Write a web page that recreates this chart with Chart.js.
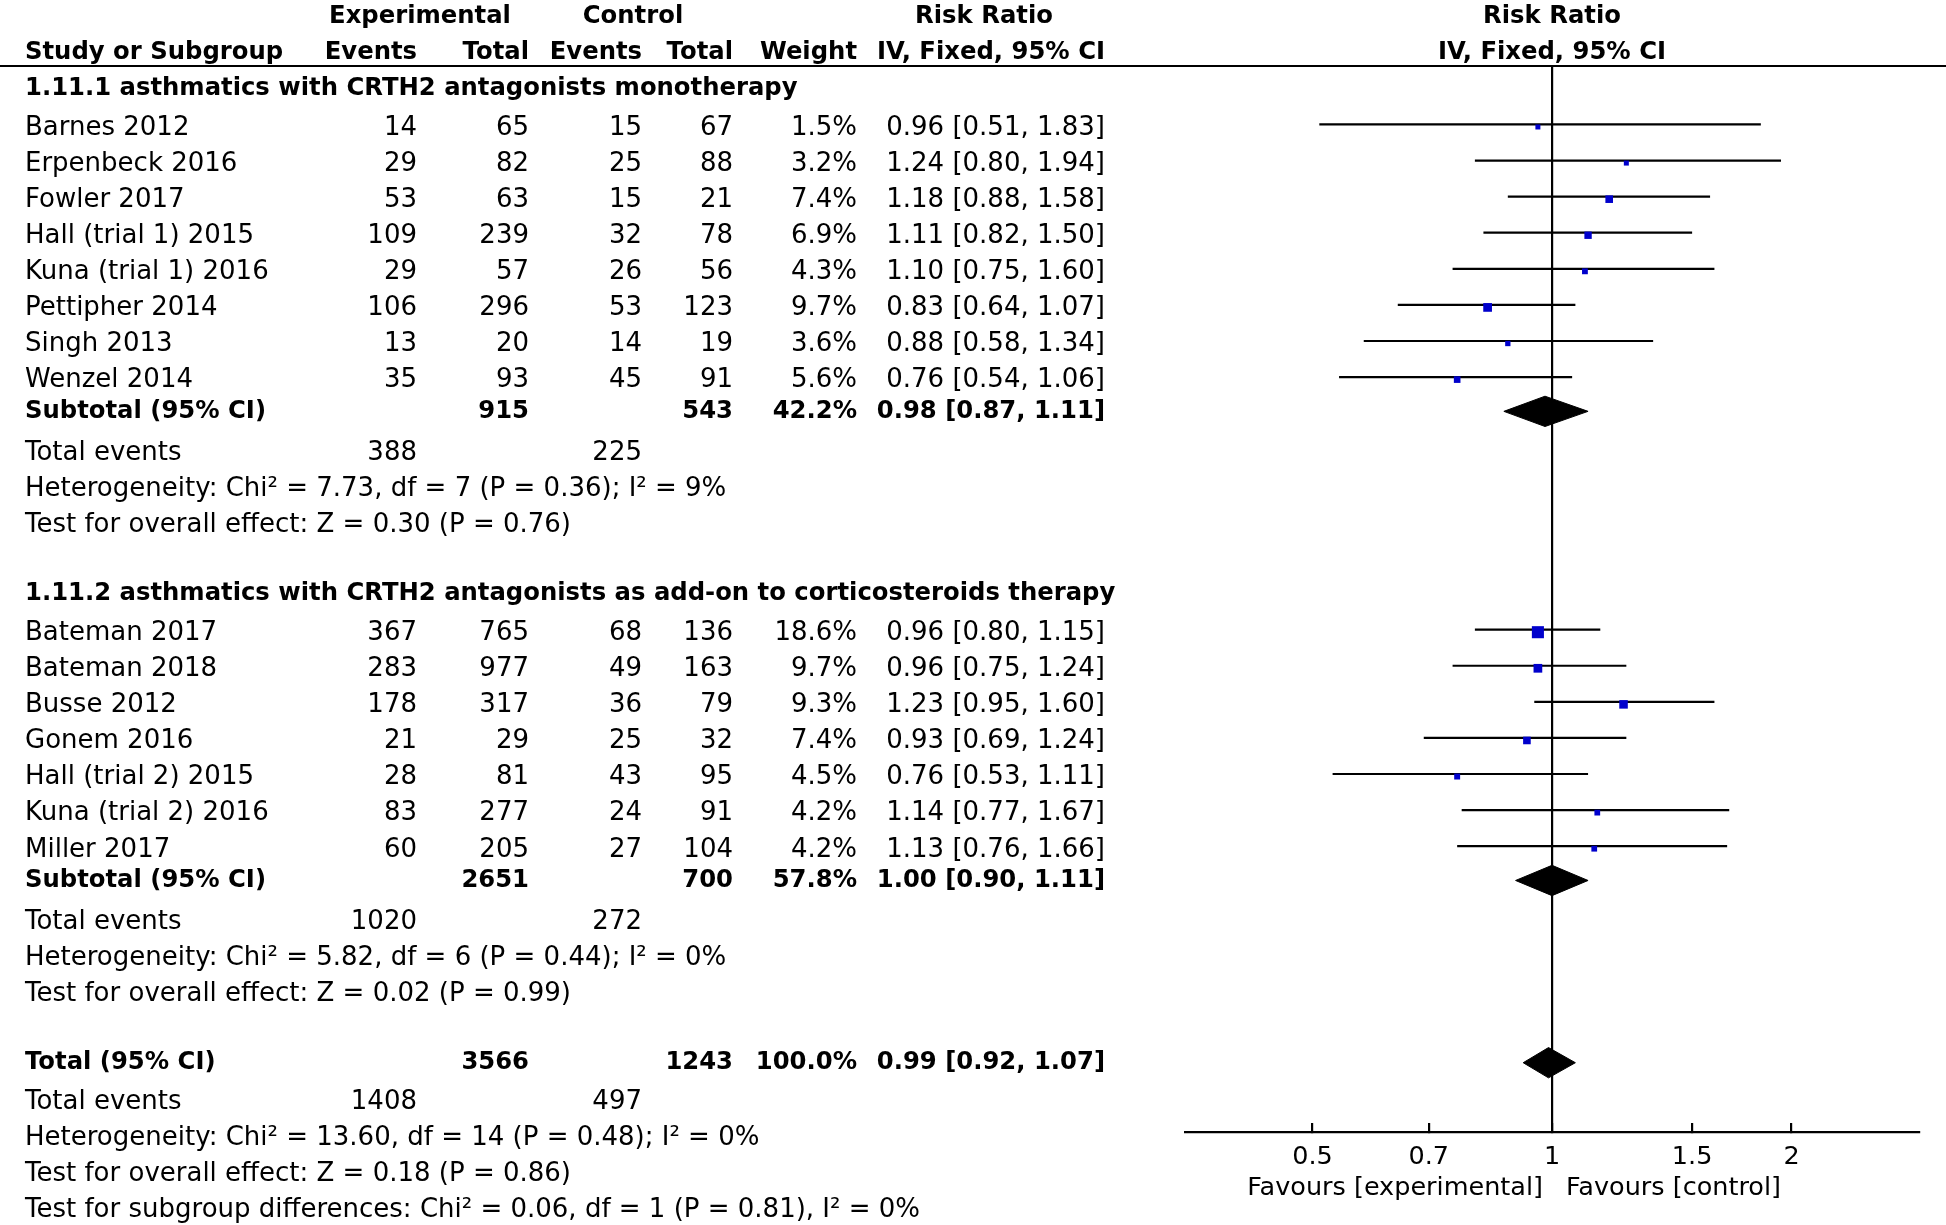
<!DOCTYPE html>
<html>
<head>
<meta charset="utf-8">
<script src="https://cdn.jsdelivr.net/npm/chart.js@4.4.1/dist/chart.umd.min.js"></script>
<style>
  html, body { margin: 0; padding: 0; background: #fff; }
  #wrap { width: 1946px; height: 1225px; position: relative; }
</style>
</head>
<body>
<div id="wrap"><canvas id="forest"></canvas></div>
<script>
// --- studies, in table order ---
const studyNames = ["Barnes 2012", "Erpenbeck 2016", "Fowler 2017", "Hall (trial 1) 2015", "Kuna (trial 1) 2016",
  "Pettipher 2014", "Singh 2013", "Wenzel 2014",
  "Bateman 2017", "Bateman 2018", "Busse 2012", "Gonem 2016", "Hall (trial 2) 2015", "Kuna (trial 2) 2016", "Miller 2017"];
const studyGroup = [0, 0, 0, 0, 0, 0, 0, 0, 1, 1, 1, 1, 1, 1, 1];
const expEvents = [14, 29, 53, 109, 29, 106, 13, 35, 367, 283, 178, 21, 28, 83, 60];
const expTotal  = [65, 82, 63, 239, 57, 296, 20, 93, 765, 977, 317, 29, 81, 277, 205];
const ctlEvents = [15, 25, 15, 32, 26, 53, 14, 45, 68, 49, 36, 25, 43, 24, 27];
const ctlTotal  = [67, 88, 21, 78, 56, 123, 19, 91, 136, 163, 79, 32, 95, 91, 104];
const weights   = [1.5, 3.2, 7.4, 6.9, 4.3, 9.7, 3.6, 5.6, 18.6, 9.7, 9.3, 7.4, 4.5, 4.2, 4.2];
const riskRatio = [0.96, 1.24, 1.18, 1.11, 1.10, 0.83, 0.88, 0.76, 0.96, 0.96, 1.23, 0.93, 0.76, 1.14, 1.13];
const ciLower   = [0.51, 0.80, 0.88, 0.82, 0.75, 0.64, 0.58, 0.54, 0.80, 0.75, 0.95, 0.69, 0.53, 0.77, 0.76];
const ciUpper   = [1.83, 1.94, 1.58, 1.50, 1.60, 1.07, 1.34, 1.06, 1.15, 1.24, 1.60, 1.24, 1.11, 1.67, 1.66];

// --- subgroups ---
const groupTitles = ["1.11.1 asthmatics with CRTH2 antagonists monotherapy",
  "1.11.2 asthmatics with CRTH2 antagonists as add-on to corticosteroids therapy"];
const groupExpTotal  = [915, 2651];
const groupCtlTotal  = [543, 700];
const groupExpEvents = [388, 1020];
const groupCtlEvents = [225, 272];
const groupWeight    = [42.2, 57.8];
const groupRR        = [0.98, 1.00];
const groupLower     = [0.87, 0.90];
const groupUpper     = [1.11, 1.11];
const groupChi2      = [7.73, 5.82];
const groupDf        = [7, 6];
const groupHetP      = [0.36, 0.44];
const groupI2        = [9, 0];
const groupZ         = [0.30, 0.02];
const groupZP        = [0.76, 0.99];

// --- overall ---
const totalCounts = [3566, 1243];      // experimental total, control total
const totalEvents = [1408, 497];
const totalEffect = [0.99, 0.92, 1.07]; // RR, lower, upper
const totalHet    = [13.60, 14, 0.48, 0];  // chi2, df, P, I2
const totalTest   = [0.18, 0.86];      // Z, P
const subgroupDiff = [0.06, 1, 0.81, 0]; // chi2, df, P, I2

const axisTicks = [0.5, 0.7, 1, 1.5, 2];

// --- layout (row units) ---
const studyRow = [], groupRow = [], subtotalRow = [], eventsRow = [], hetRow = [], testRow = [];
let pos = 0.62;
groupTitles.forEach((t, g) => {
  groupRow[g] = pos;
  pos += 1.1;
  studyNames.forEach((n, i) => {
    if (studyGroup[i] === g) { studyRow[i] = pos; pos += 1; }
  });
  pos += 0.85 - 1;
  subtotalRow[g] = pos;
  pos += 1.15; eventsRow[g] = pos;
  pos += 1; hetRow[g] = pos;
  pos += 1; testRow[g] = pos;
  pos += 1.9;
});
const totalRow = pos;
const totalEventsRow = totalRow + 1.1;
const totalHetRow = totalEventsRow + 1;
const totalTestRow = totalHetRow + 1;
const subgroupRow = totalTestRow + 1;
const headRow1 = -1.38, headRow2 = -0.38;

const Y_MAX = 29.54;
const X_MIN = Math.exp(-1.062), X_MAX = Math.exp(1.062);

const REG = '26px "DejaVu Sans"';
const BOLD = 'bold 24.3px "DejaVu Sans"';
const COL = { name: 25, expEv: 417, expTot: 529, ctlEv: 642, ctlTot: 733, weight: 857, rr: 1105 };

const f2 = v => v.toFixed(2);
const rrText = (r, l, h) => `${f2(r)} [${f2(l)}, ${f2(h)}]`;
const hetText = (c, d, p, i2, sep) => `Heterogeneity: Chi² = ${f2(c)}, df = ${d} (P = ${f2(p)})${sep} I² = ${i2}%`;

// --- datasets ---
const markerSet = {
  data: studyNames.map((n, i) => ({ x: riskRatio[i], y: studyRow[i] - 0.03 })),
  pointStyle: 'rect',
  pointRadius: c => (c.dataIndex == null ? 0 : Math.max(5, 2.8 * Math.sqrt(weights[c.dataIndex])) / Math.SQRT2),
  pointBackgroundColor: '#0000CC',
  pointBorderWidth: 0,
  order: 0
};

const ciSets = studyNames.map((n, i) => ({
  data: [{ x: ciLower[i], y: studyRow[i] - 0.1 }, { x: ciUpper[i], y: studyRow[i] - 0.1 }],
  showLine: true, borderColor: '#000', borderWidth: 2.2, pointRadius: 0, order: 2
}));

function diamond(r, l, h, row) {
  const hh = 0.42;
  return {
    data: [{ x: l, y: row }, { x: r, y: row - hh }, { x: h, y: row }, { x: r, y: row + hh }, { x: l, y: row }],
    showLine: true, fill: 'shape', tension: 0,
    borderColor: '#000', backgroundColor: '#000', borderWidth: 1, pointRadius: 0, order: 1
  };
}
const diamondSets = groupTitles.map((t, g) => diamond(groupRR[g], groupLower[g], groupUpper[g], subtotalRow[g]));
diamondSets.push(diamond(totalEffect[0], totalEffect[1], totalEffect[2], totalRow));

// --- table text ---
const tablePlugin = {
  id: 'table',
  afterDraw(chart) {
    const ctx = chart.ctx;
    const ys = chart.scales.y, xs = chart.scales.x;
    const py = v => ys.getPixelForValue(v);
    const put = (txt, x, v, align, bold) => {
      ctx.font = bold ? BOLD : REG;
      ctx.textAlign = align;
      ctx.fillText(String(txt), x, py(v));
    };
    ctx.save();
    ctx.fillStyle = '#000';
    ctx.textBaseline = 'middle';

    // header
    put('Experimental', 420, headRow1, 'center', true);
    put('Control', 633, headRow1, 'center', true);
    put('Risk Ratio', 984, headRow1, 'center', true);
    put('Study or Subgroup', COL.name, headRow2, 'left', true);
    put('Events', COL.expEv, headRow2, 'right', true);
    put('Total', COL.expTot, headRow2, 'right', true);
    put('Events', COL.ctlEv, headRow2, 'right', true);
    put('Total', COL.ctlTot, headRow2, 'right', true);
    put('Weight', COL.weight, headRow2, 'right', true);
    put('IV, Fixed, 95% CI', COL.rr, headRow2, 'right', true);
    const cx = (chart.chartArea.left + chart.chartArea.right) / 2;
    put('Risk Ratio', cx, headRow1, 'center', true);
    put('IV, Fixed, 95% CI', cx, headRow2, 'center', true);

    ctx.strokeStyle = '#000';
    ctx.lineWidth = 2.2;
    ctx.beginPath();
    ctx.moveTo(0, py(0));
    ctx.lineTo(chart.width, py(0));
    ctx.stroke();

    // studies
    studyNames.forEach((n, i) => {
      const v = studyRow[i];
      put(n, COL.name, v, 'left');
      put(expEvents[i], COL.expEv, v, 'right');
      put(expTotal[i], COL.expTot, v, 'right');
      put(ctlEvents[i], COL.ctlEv, v, 'right');
      put(ctlTotal[i], COL.ctlTot, v, 'right');
      put(weights[i].toFixed(1) + '%', COL.weight, v, 'right');
      put(rrText(riskRatio[i], ciLower[i], ciUpper[i]), COL.rr, v, 'right');
    });

    // subgroups
    groupTitles.forEach((t, g) => {
      put(t, COL.name, groupRow[g], 'left', true);
      const s = subtotalRow[g];
      put('Subtotal (95% CI)', COL.name, s, 'left', true);
      put(groupExpTotal[g], COL.expTot, s, 'right', true);
      put(groupCtlTotal[g], COL.ctlTot, s, 'right', true);
      put(groupWeight[g].toFixed(1) + '%', COL.weight, s, 'right', true);
      put(rrText(groupRR[g], groupLower[g], groupUpper[g]), COL.rr, s, 'right', true);
      put('Total events', COL.name, eventsRow[g], 'left');
      put(groupExpEvents[g], COL.expEv, eventsRow[g], 'right');
      put(groupCtlEvents[g], COL.ctlEv, eventsRow[g], 'right');
      put(hetText(groupChi2[g], groupDf[g], groupHetP[g], groupI2[g], ';'), COL.name, hetRow[g], 'left');
      put(`Test for overall effect: Z = ${f2(groupZ[g])} (P = ${f2(groupZP[g])})`, COL.name, testRow[g], 'left');
    });

    // overall
    put('Total (95% CI)', COL.name, totalRow, 'left', true);
    put(totalCounts[0], COL.expTot, totalRow, 'right', true);
    put(totalCounts[1], COL.ctlTot, totalRow, 'right', true);
    put('100.0%', COL.weight, totalRow, 'right', true);
    put(rrText(totalEffect[0], totalEffect[1], totalEffect[2]), COL.rr, totalRow, 'right', true);
    put('Total events', COL.name, totalEventsRow, 'left');
    put(totalEvents[0], COL.expEv, totalEventsRow, 'right');
    put(totalEvents[1], COL.ctlEv, totalEventsRow, 'right');
    put(hetText(totalHet[0], totalHet[1], totalHet[2], totalHet[3], ';'), COL.name, totalHetRow, 'left');
    put(`Test for overall effect: Z = ${f2(totalTest[0])} (P = ${f2(totalTest[1])})`, COL.name, totalTestRow, 'left');
    put(`Test for subgroup differences: Chi² = ${f2(subgroupDiff[0])}, df = ${subgroupDiff[1]} (P = ${f2(subgroupDiff[2])}), I² = ${subgroupDiff[3]}%`,
      COL.name, subgroupRow, 'left');

    // favours labels
    const one = xs.getPixelForValue(1);
    ctx.font = '25.5px "DejaVu Sans"';
    ctx.textAlign = 'right';
    ctx.fillText('Favours [experimental]', one - 9, 1188);
    ctx.textAlign = 'left';
    ctx.fillText('Favours [control]', one + 14, 1188);
    ctx.restore();
  }
};

new Chart(document.getElementById('forest'), {
  type: 'scatter',
  data: { datasets: [markerSet, ...diamondSets, ...ciSets] },
  options: {
    responsive: true,
    maintainAspectRatio: false,
    animation: false,
    layout: { padding: { left: 1185, right: 27, top: 66, bottom: 0 } },
    plugins: { legend: { display: false }, tooltip: { enabled: false } },
    scales: {
      x: {
        type: 'logarithmic',
        position: 'bottom',
        bounds: 'data',
        min: X_MIN,
        max: X_MAX,
        afterBuildTicks: s => { s.ticks = axisTicks.map(v => ({ value: v })); },
        afterFit: s => { s.height = 93; },
        ticks: {
          autoSkip: false, maxRotation: 0, padding: 19, color: '#000',
          font: { family: 'DejaVu Sans', size: 25.5 },
          callback: v => String(v)
        },
        grid: {
          color: c => (c.tick && c.tick.value === 1 ? '#000' : 'rgba(0,0,0,0)'),
          lineWidth: 2.2,
          drawTicks: true,
          tickLength: -9,
          tickColor: '#000',
          tickWidth: 2.2
        },
        border: { display: true, color: '#000', width: 2.2 }
      },
      y: { type: 'linear', display: false, reverse: true, min: 0, max: Y_MAX }
    }
  },
  plugins: [tablePlugin]
});
</script>
</body>
</html>
